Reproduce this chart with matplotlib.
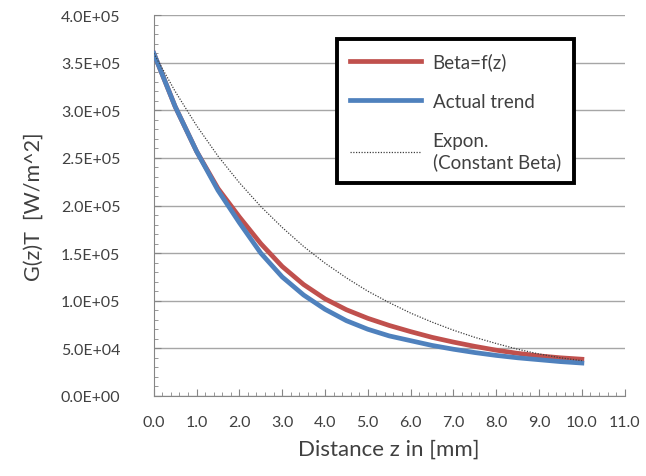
import numpy as np
import matplotlib.pyplot as plt
from matplotlib.ticker import MultipleLocator, FuncFormatter

# distance z [mm]
z_mm = [0.0, 0.5, 1.0, 1.5, 2.0, 2.5, 3.0, 3.5, 4.0, 4.5, 5.0,
        5.5, 6.0, 6.5, 7.0, 7.5, 8.0, 8.5, 9.0, 9.5, 10.0]

# G(z)T [W/m^2]
beta_fz = [360000, 304000, 257000, 218000, 188000, 160000, 136000, 117000, 102000, 90500, 81500,
           74000, 67500, 61500, 56500, 52000, 48000, 44700, 42000, 40000, 38500]
actual = [360000, 304000, 257000, 216000, 182000, 150000, 125000, 106000, 91000, 79000, 70000,
          63000, 58000, 53000, 49000, 45500, 42500, 40000, 38000, 36000, 34500]
expon = [360000, 320000, 284000, 252000, 224000, 199000, 177000, 157000, 139500, 124000, 110000,
         98000, 87000, 77500, 69000, 61500, 55000, 49000, 44000, 40000, 37000]

plt.rcParams['font.family'] = ['Lato', 'DejaVu Sans']

fig = plt.figure(figsize=(6.46, 4.77), dpi=100)
ax = fig.add_axes([0.238, 0.168, 0.729, 0.798])

ax.plot(z_mm, beta_fz, color='#C0504D', linewidth=3.4, label='Beta=f(z)', zorder=3,
        solid_joinstyle='round')
ax.plot(z_mm, actual, color='#4F81BD', linewidth=3.4, label='Actual trend', zorder=3,
        solid_joinstyle='round')
ax.plot(z_mm, expon, color='#404040', linewidth=0.9, linestyle=(0, (1, 1.2)),
        label='Expon.\n(Constant Beta)', zorder=4)

ax.set_xlim(0, 11)
ax.set_ylim(0, 400000)
ax.xaxis.set_major_locator(MultipleLocator(1))
ax.xaxis.set_minor_locator(MultipleLocator(0.2))
ax.yaxis.set_major_locator(MultipleLocator(50000))
ax.yaxis.set_minor_locator(MultipleLocator(10000))
ax.xaxis.set_major_formatter(FuncFormatter(lambda v, p: '{:.1f}'.format(v)))
ax.yaxis.set_major_formatter(FuncFormatter(lambda v, p: '{:.1E}'.format(v)))

ax.grid(axis='y', color='#A6A6A6', linewidth=1.0)
ax.set_axisbelow(True)
for side in ['top', 'right']:
    ax.spines[side].set_visible(False)
for side in ['left', 'bottom']:
    ax.spines[side].set_color('#868686')
ax.tick_params(which='major', direction='in', length=5, color='#868686',
               labelsize=11.5, labelcolor='#404040')
ax.tick_params(which='minor', direction='in', length=3, color='#868686')
ax.tick_params(axis='y', which='major', pad=24)
ax.tick_params(axis='x', which='major', pad=14)

ax.set_xlabel('Distance z in [mm]', fontsize=16, color='#404040', labelpad=7)
ax.set_ylabel('G(z)T  [W/m^2]', fontsize=15.5, color='#404040', labelpad=12)

leg = ax.legend(loc='upper left', bbox_to_anchor=(0.389, 0.937), borderaxespad=0,
                fontsize=13.5, fancybox=False, framealpha=1, edgecolor='black',
                handlelength=3.8, labelspacing=1.2, borderpad=0.7, handletextpad=0.6)
leg.get_frame().set_linewidth(2.8)
for t in leg.get_texts():
    t.set_color('#404040')

plt.savefig('out.png', dpi=100)
